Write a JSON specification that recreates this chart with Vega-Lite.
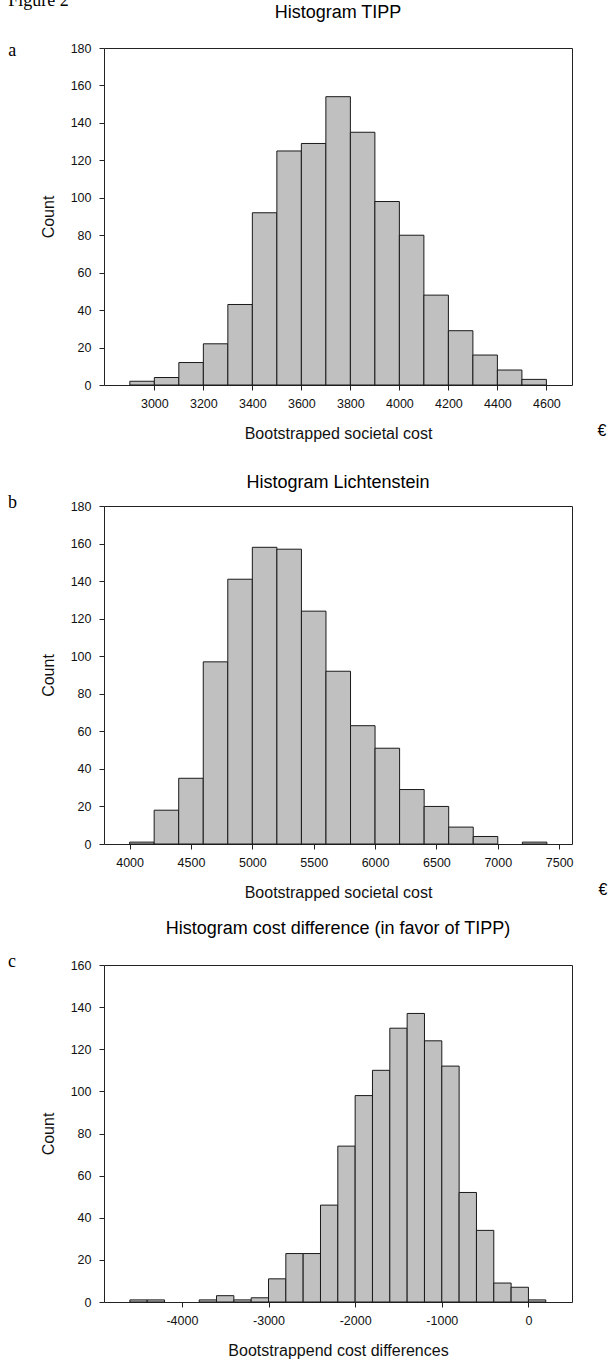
{
  "$schema": "https://vega.github.io/schema/vega-lite/v6.json",
  "padding": {"left": 7, "top": -9, "right": 0, "bottom": 5},
  "background": "white",
  "bounds": "flush",
  "spacing": 121,
  "config": {
    "font": "Liberation Sans",
    "view": {"stroke": "#222", "strokeWidth": 1},
    "title": {"font": "Liberation Sans", "fontSize": 18, "fontWeight": "normal", "color": "#000", "anchor": "middle", "frame": "group", "offset": 10},
    "axis": {"grid": false, "domain": false, "tickColor": "#222", "tickSize": 5, "labelFont": "Liberation Sans", "labelFontSize": 12.5, "labelColor": "#111", "labelFlush": false, "labelOverlap": false, "titleFont": "Liberation Sans", "titleFontSize": 16, "titleFontWeight": "normal", "titleColor": "#111"},
    "axisX": {"labelPadding": 7, "titlePadding": 16, "labelAngle": 0},
    "axisY": {"labelPadding": 8, "titlePadding": 14}
  },
  "datasets": {
    "tipp": [
      {"start": 2900, "end": 3000, "count": 2},
      {"start": 3000, "end": 3100, "count": 4},
      {"start": 3100, "end": 3200, "count": 12},
      {"start": 3200, "end": 3300, "count": 22},
      {"start": 3300, "end": 3400, "count": 43},
      {"start": 3400, "end": 3500, "count": 92},
      {"start": 3500, "end": 3600, "count": 125},
      {"start": 3600, "end": 3700, "count": 129},
      {"start": 3700, "end": 3800, "count": 154},
      {"start": 3800, "end": 3900, "count": 135},
      {"start": 3900, "end": 4000, "count": 98},
      {"start": 4000, "end": 4100, "count": 80},
      {"start": 4100, "end": 4200, "count": 48},
      {"start": 4200, "end": 4300, "count": 29},
      {"start": 4300, "end": 4400, "count": 16},
      {"start": 4400, "end": 4500, "count": 8},
      {"start": 4500, "end": 4600, "count": 3}
    ],
    "licht": [
      {"start": 4000, "end": 4200, "count": 1},
      {"start": 4200, "end": 4400, "count": 18},
      {"start": 4400, "end": 4600, "count": 35},
      {"start": 4600, "end": 4800, "count": 97},
      {"start": 4800, "end": 5000, "count": 141},
      {"start": 5000, "end": 5200, "count": 158},
      {"start": 5200, "end": 5400, "count": 157},
      {"start": 5400, "end": 5600, "count": 124},
      {"start": 5600, "end": 5800, "count": 92},
      {"start": 5800, "end": 6000, "count": 63},
      {"start": 6000, "end": 6200, "count": 51},
      {"start": 6200, "end": 6400, "count": 29},
      {"start": 6400, "end": 6600, "count": 20},
      {"start": 6600, "end": 6800, "count": 9},
      {"start": 6800, "end": 7000, "count": 4},
      {"start": 7200, "end": 7400, "count": 1}
    ],
    "diff": [
      {"start": -4600, "end": -4400, "count": 1},
      {"start": -4400, "end": -4200, "count": 1},
      {"start": -3800, "end": -3600, "count": 1},
      {"start": -3600, "end": -3400, "count": 3},
      {"start": -3400, "end": -3200, "count": 1},
      {"start": -3200, "end": -3000, "count": 2},
      {"start": -3000, "end": -2800, "count": 11},
      {"start": -2800, "end": -2600, "count": 23},
      {"start": -2600, "end": -2400, "count": 23},
      {"start": -2400, "end": -2200, "count": 46},
      {"start": -2200, "end": -2000, "count": 74},
      {"start": -2000, "end": -1800, "count": 98},
      {"start": -1800, "end": -1600, "count": 110},
      {"start": -1600, "end": -1400, "count": 130},
      {"start": -1400, "end": -1200, "count": 137},
      {"start": -1200, "end": -1000, "count": 124},
      {"start": -1000, "end": -800, "count": 112},
      {"start": -800, "end": -600, "count": 52},
      {"start": -600, "end": -400, "count": 34},
      {"start": -400, "end": -200, "count": 9},
      {"start": -200, "end": 0, "count": 7},
      {"start": 0, "end": 200, "count": 1}
    ]
  },
  "vconcat": [
    {
      "width": 468,
      "height": 337,
      "title": {"text": "Histogram TIPP", "dy": 40},
      "resolve": {"axis": {"x": "independent", "y": "independent"}},
      "layer": [
        {
          "data": {"name": "tipp"},
          "mark": {"type": "bar", "fill": "#c0c0c0", "stroke": "#1a1a1a", "strokeWidth": 1, "orient": "vertical"},
          "encoding": {
            "x": {"field": "start", "type": "quantitative", "scale": {"domain": [2815, 4684], "nice": false, "zero": false}, "axis": {"values": [3000, 3200, 3400, 3600, 3800, 4000, 4200, 4400, 4600], "title": "Bootstrapped societal cost", "labelExpr": "'' + datum.value"}},
            "x2": {"field": "end"},
            "y": {"field": "count", "type": "quantitative", "scale": {"domain": [0, 180], "nice": false}, "axis": {"values": [0, 20, 40, 60, 80, 100, 120, 140, 160, 180], "title": "Count"}},
            "y2": {"datum": 0}
          }
        },
        {
          "data": {"values": [{"label": "Figure 2"}]},
          "mark": {"type": "text", "font": "Liberation Serif", "fontSize": 18, "align": "left", "baseline": "alphabetic", "color": "#000"},
          "encoding": {
            "text": {"field": "label"},
            "x": {"datum": 2404, "type": "quantitative", "scale": {"domain": [2815, 4684], "nice": false, "zero": false}, "axis": null},
            "y": {"datum": 202.5, "type": "quantitative", "scale": {"domain": [0, 180], "nice": false}, "axis": null}
          }
        },
        {
          "data": {"values": [{"label": "a"}]},
          "mark": {"type": "text", "font": "Liberation Serif", "fontSize": 18, "align": "left", "baseline": "alphabetic", "color": "#000"},
          "encoding": {
            "text": {"field": "label"},
            "x": {"datum": 2404, "type": "quantitative", "scale": {"domain": [2815, 4684], "nice": false, "zero": false}, "axis": null},
            "y": {"datum": 175.7, "type": "quantitative", "scale": {"domain": [0, 180], "nice": false}, "axis": null}
          }
        },
        {
          "data": {"values": [{"label": "€"}]},
          "mark": {"type": "text", "font": "Liberation Sans", "fontSize": 16, "align": "left", "baseline": "alphabetic", "color": "#000"},
          "encoding": {
            "text": {"field": "label"},
            "x": {"datum": 4808, "type": "quantitative", "scale": {"domain": [2815, 4684], "nice": false, "zero": false}, "axis": null},
            "y": {"datum": -27.2, "type": "quantitative", "scale": {"domain": [0, 180], "nice": false}, "axis": null}
          }
        }
      ]
    },
    {
      "width": 468,
      "height": 338,
      "title": {"text": "Histogram Lichtenstein", "dy": 8},
      "resolve": {"axis": {"x": "independent", "y": "independent"}},
      "layer": [
        {
          "data": {"name": "licht"},
          "mark": {"type": "bar", "fill": "#c0c0c0", "stroke": "#1a1a1a", "strokeWidth": 1, "orient": "vertical"},
          "encoding": {
            "x": {"field": "start", "type": "quantitative", "scale": {"domain": [3832, 7564], "nice": false, "zero": false}, "axis": {"values": [4000, 4500, 5000, 5500, 6000, 6500, 7000, 7500], "title": "Bootstrapped societal cost", "labelExpr": "'' + datum.value"}},
            "x2": {"field": "end"},
            "y": {"field": "count", "type": "quantitative", "scale": {"domain": [0, 180], "nice": false}, "axis": {"values": [0, 20, 40, 60, 80, 100, 120, 140, 160, 180], "title": "Count"}},
            "y2": {"datum": 0}
          }
        },
        {
          "data": {"values": [{"label": "b"}]},
          "mark": {"type": "text", "font": "Liberation Serif", "fontSize": 18, "align": "left", "baseline": "alphabetic", "color": "#000"},
          "encoding": {
            "text": {"field": "label"},
            "x": {"datum": 3009, "type": "quantitative", "scale": {"domain": [3832, 7564], "nice": false, "zero": false}, "axis": null},
            "y": {"datum": 178.7, "type": "quantitative", "scale": {"domain": [0, 180], "nice": false}, "axis": null}
          }
        },
        {
          "data": {"values": [{"label": "€"}]},
          "mark": {"type": "text", "font": "Liberation Sans", "fontSize": 16, "align": "left", "baseline": "alphabetic", "color": "#000"},
          "encoding": {
            "text": {"field": "label"},
            "x": {"datum": 7820, "type": "quantitative", "scale": {"domain": [3832, 7564], "nice": false, "zero": false}, "axis": null},
            "y": {"datum": -27.2, "type": "quantitative", "scale": {"domain": [0, 180], "nice": false}, "axis": null}
          }
        }
      ]
    },
    {
      "width": 468,
      "height": 337,
      "title": {"text": "Histogram cost difference (in favor of TIPP)", "offset": 15},
      "resolve": {"axis": {"x": "independent", "y": "independent"}},
      "layer": [
        {
          "data": {"name": "diff"},
          "mark": {"type": "bar", "fill": "#c0c0c0", "stroke": "#1a1a1a", "strokeWidth": 1, "orient": "vertical"},
          "encoding": {
            "x": {"field": "start", "type": "quantitative", "scale": {"domain": [-4841, 445], "nice": false, "zero": false}, "axis": {"values": [-4000, -3000, -2000, -1000, 0], "title": "Bootstrappend cost differences", "labelExpr": "'' + datum.value"}},
            "x2": {"field": "end"},
            "y": {"field": "count", "type": "quantitative", "scale": {"domain": [0, 160], "nice": false}, "axis": {"values": [0, 20, 40, 60, 80, 100, 120, 140, 160], "title": "Count"}},
            "y2": {"datum": 0}
          }
        },
        {
          "data": {"values": [{"label": "c"}]},
          "mark": {"type": "text", "font": "Liberation Serif", "fontSize": 18, "align": "left", "baseline": "alphabetic", "color": "#000"},
          "encoding": {
            "text": {"field": "label"},
            "x": {"datum": -6007, "type": "quantitative", "scale": {"domain": [-4841, 445], "nice": false, "zero": false}, "axis": null},
            "y": {"datum": 159, "type": "quantitative", "scale": {"domain": [0, 160], "nice": false}, "axis": null}
          }
        }
      ]
    }
  ]
}
